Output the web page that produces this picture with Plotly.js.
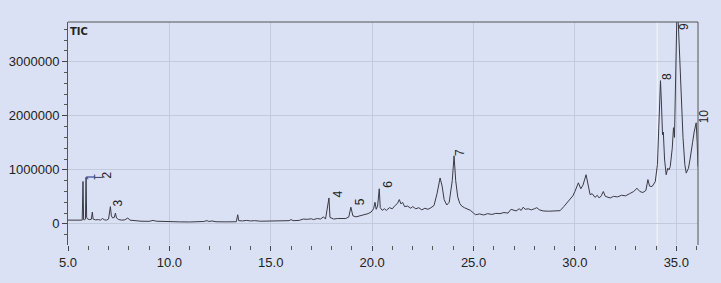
<!DOCTYPE html>
<html>
<head>
<meta charset="utf-8">
<script src="https://cdn.plot.ly/plotly-3.0.1.min.js"></script>
<style>
  html, body { margin: 0; padding: 0; background: #dbe1f4; }
  #chart { width: 721px; height: 283px; }
</style>
</head>
<body>
<div id="chart"></div>
<script>
// Retention time (min)
const retentionTime = [
  5.00, 5.20, 5.40, 5.60, 5.70, 5.74, 5.77, 5.82, 5.86, 5.89, 5.92, 5.97, 6.05, 6.15, 6.20, 6.24,
  6.35, 6.50, 6.60, 6.70, 6.80, 6.90, 7.00, 7.09, 7.14, 7.20, 7.28, 7.34, 7.39, 7.50, 7.65, 7.80,
  7.95, 8.05, 8.30, 8.60, 9.00, 9.20, 9.35, 9.80, 10.00, 10.50, 11.00, 11.50, 11.70, 11.85, 11.95,
  12.10, 12.30, 12.80, 13.30, 13.37, 13.42, 13.60, 13.80, 14.00, 14.20, 14.50, 14.80, 15.00, 15.30,
  15.60, 15.90, 16.00, 16.10, 16.40, 16.60, 16.80, 17.00, 17.10, 17.30, 17.45, 17.60, 17.70, 17.87,
  17.92, 18.10, 18.30, 18.50, 18.70, 18.85, 18.95, 19.05, 19.20, 19.40, 19.60, 19.80, 19.95, 20.07,
  20.14, 20.20, 20.27, 20.35, 20.40, 20.50, 20.60, 20.70, 20.85, 21.00, 21.10, 21.25, 21.34, 21.42,
  21.50, 21.60, 21.75, 21.90, 22.00, 22.15, 22.30, 22.45, 22.60, 22.75, 22.90, 23.05, 23.20, 23.35,
  23.45, 23.55, 23.68, 23.80, 23.95, 24.04, 24.12, 24.22, 24.32, 24.42, 24.55, 24.70, 24.85, 25.00,
  25.10, 25.30, 25.50, 25.70, 25.90, 26.10, 26.30, 26.50, 26.70, 26.85, 26.95, 27.10, 27.25, 27.35,
  27.45, 27.55, 27.70, 27.85, 28.00, 28.12, 28.25, 28.43, 28.70, 29.00, 29.27, 29.45, 29.60, 29.76,
  29.90, 30.00, 30.10, 30.17, 30.29, 30.40, 30.55, 30.65, 30.75, 30.85, 30.99, 31.10, 31.20, 31.30,
  31.40, 31.50, 31.60, 31.74, 31.90, 32.10, 32.30, 32.50, 32.70, 32.90, 33.06, 33.20, 33.35, 33.50,
  33.60, 33.68, 33.80, 33.96, 34.07, 34.15, 34.22, 34.27, 34.32, 34.36, 34.42, 34.50, 34.58, 34.64,
  34.70, 34.80, 34.86, 34.91, 34.98, 35.03, 35.10, 35.16, 35.19, 35.25, 35.33, 35.42, 35.49, 35.56,
  35.60, 35.68, 35.72, 35.80, 35.88, 35.93, 35.98, 36.03, 36.07
];

// Total ion current intensity
const ticIntensity = [
  70000, 72000, 65000, 68000, 70000, 785000, 80000, 75000, 90000, 860000, 120000, 90000, 80000, 85000, 220000, 90000,
  75000, 80000, 70000, 100000, 75000, 70000, 90000, 320000, 150000, 110000, 120000, 200000, 110000, 80000, 70000, 75000,
  110000, 70000, 55000, 50000, 48000, 65000, 50000, 40000, 40000, 38000, 36000, 35000, 45000, 60000, 45000,
  55000, 40000, 38000, 40000, 170000, 60000, 55000, 65000, 55000, 60000, 50000, 55000, 50000, 52000,
  55000, 60000, 80000, 60000, 65000, 90000, 85000, 95000, 80000, 100000, 90000, 130000, 90000, 480000,
  120000, 90000, 100000, 95000, 100000, 130000, 310000, 150000, 130000, 150000, 170000, 190000, 220000, 280000,
  400000, 270000, 330000, 650000, 300000, 250000, 280000, 250000, 300000, 280000, 330000, 380000, 450000, 370000,
  400000, 320000, 330000, 290000, 320000, 280000, 300000, 260000, 290000, 270000, 300000, 340000, 560000, 850000,
  700000, 450000, 350000, 400000, 800000, 1260000, 800000, 500000, 380000, 330000, 300000, 280000, 250000, 200000,
  170000, 185000, 165000, 190000, 175000, 195000, 190000, 210000, 200000, 270000, 260000, 240000, 280000, 250000,
  310000, 270000, 280000, 260000, 280000, 300000, 260000, 240000, 235000, 235000, 245000, 320000, 380000, 450000,
  520000, 600000, 700000, 760000, 650000, 720000, 910000, 700000, 540000, 560000, 490000, 530000, 480000, 520000,
  600000, 510000, 500000, 480000, 510000, 500000, 530000, 520000, 560000, 600000, 660000, 600000, 580000, 620000,
  820000, 700000, 690000, 780000, 1100000, 2000000, 2650000, 2200000, 1650000, 1700000, 1200000, 910000, 1030000, 1000000,
  1060000, 1400000, 1780000, 1600000, 2800000, 3900000, 3700000, 3070000, 2950000, 2300000, 1600000, 1100000, 940000, 1000000,
  1030000, 1200000, 1340000, 1500000, 1700000, 1810000, 1870000, 1500000, 1060000
];

// Peak labels
const peakLabels = ["1", "2", "3", "4", "5", "6", "7", "8", "9", "10"];
const peakLabelTime = [6.12, 6.93, 7.47, 18.3, 19.4, 20.8, 24.33, 34.55, 35.35, 36.07];
const peakLabelY = [870000, 900000, 380000, 555000, 420000, 730000, 1330000, 2720000, 3650000, 1990000];
const peakLabelShift = [0, 0, 0, 0, 0, 0, 0, 0, 0, 6];
const peakLabelColor = ["#2b3d8f", "#222", "#222", "#222", "#222", "#222", "#222", "#222", "#222", "#222"];

const xTickVals = [5, 10, 15, 20, 25, 30, 35];
const xTickText = ["5.0", "10.0", "15.0", "20.0", "25.0", "30.0", "35.0"];
const yTickVals = [0, 1000000, 2000000, 3000000];
const yTickText = ["0", "1000000", "2000000", "3000000"];

const trace = {
  x: retentionTime,
  y: ticIntensity,
  type: "scatter",
  mode: "lines",
  line: { color: "#3a3a44", width: 1 },
  hoverinfo: "skip"
};

const annotations = peakLabels.map((t, i) => ({
  x: peakLabelTime[i], y: peakLabelY[i], xref: "x", yref: "y",
  xshift: peakLabelShift[i],
  text: t, showarrow: false, textangle: -90,
  font: { family: "Liberation Sans, Arial, sans-serif", size: 12, color: peakLabelColor[i] },
  xanchor: "center", yanchor: "middle"
}));
annotations.push({
  x: 0, y: 1, xref: "paper", yref: "paper", xanchor: "left", yanchor: "top",
  xshift: 0, yshift: -1, text: "<b>TIC</b>", showarrow: false,
  font: { family: "DejaVu Sans Condensed, Liberation Sans Narrow, sans-serif", size: 11, color: "#222" }
});

const layout = {
  width: 721, height: 283,
  margin: { l: 68, r: 23, t: 22, b: 38 },
  paper_bgcolor: "#dbe1f4",
  plot_bgcolor: "#dbe1f4",
  showlegend: false,
  xaxis: {
    range: [5.0, 36.07],
    tickvals: xTickVals, ticktext: xTickText,
    ticks: "outside", ticklen: 5, tickcolor: "#444", tickwidth: 1,
    minor: { dtick: 1, ticks: "outside", ticklen: 4, tickcolor: "#555", showgrid: false },
    showgrid: true, gridcolor: "#c4cade", gridwidth: 1,
    zeroline: false, showline: false,
    tickfont: { family: "Liberation Sans, Arial, sans-serif", size: 13, color: "#222" }
  },
  yaxis: {
    range: [-390000, 3735000],
    tickvals: yTickVals, ticktext: yTickText,
    ticks: "outside", ticklen: 5, tickcolor: "#444", tickwidth: 1,
    minor: { dtick: 200000, ticks: "outside", ticklen: 3, tickcolor: "#555", showgrid: false },
    showgrid: true, gridcolor: "#c4cade", gridwidth: 1,
    zeroline: false, showline: true, linecolor: "#555", linewidth: 1,
    tickfont: { family: "Liberation Sans, Arial, sans-serif", size: 13, color: "#222" }
  },
  shapes: [
    { type: "line", xref: "x", yref: "paper", x0: 34.06, x1: 34.06, y0: 0, y1: 1,
      line: { color: "#f4f6fc", width: 1 }, layer: "below" },
    { type: "line", xref: "paper", yref: "paper", x0: 0, x1: 1, y0: 1, y1: 1,
      line: { color: "#555", width: 1 } },
    { type: "line", xref: "paper", yref: "paper", x0: 1, x1: 1, y0: 0, y1: 1,
      line: { color: "#555", width: 1 } },
    { type: "line", xref: "x", yref: "y", x0: 6.3, x1: 6.72, y0: 860000, y1: 860000,
      line: { color: "#3a3a60", width: 1 } }
  ],
  annotations: annotations
};

Plotly.newPlot("chart", [trace], layout, { staticPlot: true, displayModeBar: false });
</script>
</body>
</html>
